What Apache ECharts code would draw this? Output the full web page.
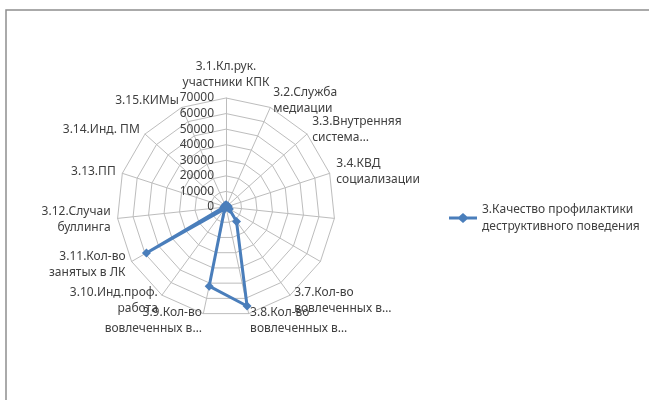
<!DOCTYPE html>
<html>
<head>
<meta charset="utf-8">
<script src="https://cdn.jsdelivr.net/npm/echarts@6/dist/echarts.min.js"></script>
<style>
  html, body { margin: 0; padding: 0; background: #ffffff; }
  #chart { width: 649px; height: 400px; }
</style>
</head>
<body>
<div id="chart"></div>
<script>
// Indicator names (3.5 and 3.6 carry no visible caption)
const indicatorNames = [
  '3.1.Кл.рук.\nучастники КПК',
  '3.2.Служба\nмедиации',
  '3.3.Внутренняя\nсистема…',
  '3.4.КВД\nсоциализации',
  '',
  '',
  '3.7.Кол-во\nвовлеченных в…',
  '3.8.Кол-во\nвовлеченных в…',
  '3.9.Кол-во\nвовлеченных в…',
  '3.10.Инд.проф.\nработа',
  '3.11.Кол-во\nзанятых в ЛК',
  '3.12.Случаи\nбуллинга',
  '3.13.ПП',
  '3.14.Инд. ПМ',
  '3.15.КИМы'
];

const seriesName = '3.Качество профилактики\nдеструктивного поведения';

// Values per indicator, in the same order as indicatorNames
const seriesValues = [1500, 1200, 800, 1500, 1000, 2500, 11500, 65000, 52000, 1500, 59000, 1500, 1000, 800, 1200];

// Scale of the radial axis
const scaleMin = 0;
const scaleMax = 70000;
const scaleStep = 10000;

const textColor = '#404040';
const gridColor = '#bdbdbd';
const lineColor = '#4a7ebb';
const font = 'Noto Sans';

const cx = 226, cy = 207, r = 109;

// ECharts lays radar axes out counter-clockwise; keep the first axis on top
// and walk the rest backwards so the categories run clockwise.
const order = [0].concat(indicatorNames.map((_, i) => i).slice(1).reverse());
const radarIndicators = order.map(i => ({ name: indicatorNames[i], min: scaleMin, max: scaleMax }));
const radarValues = order.map(i => seriesValues[i]);

// Legend glyph: a thick line crossed by a diamond marker
const legendIcon = 'path://M0,3.6 L10,3.6 L14,0 L18,3.6 L28,3.6 L28,6.4 L18,6.4 L14,10 L10,6.4 L0,6.4 Z';

const chart = echarts.init(document.getElementById('chart'), null, { renderer: 'canvas' });

chart.setOption({
  backgroundColor: '#ffffff',
  animation: false,
  textStyle: { fontFamily: font },
  graphic: [{
    type: 'rect',
    shape: { x: 6, y: 10, width: 700, height: 500 },
    style: { fill: 'none', stroke: '#8e8e8e', lineWidth: 1.5 },
    silent: true
  }],
  legend: {
    data: [{ name: seriesName, icon: legendIcon }],
    orient: 'vertical',
    left: 444,
    top: 196,
    itemWidth: 28,
    itemHeight: 10,
    textStyle: { color: textColor, fontSize: 12, fontFamily: font, lineHeight: 17 }
  },
  // Vertical value axis printed along the first spoke
  grid: { left: cx, top: cy - r, height: r, width: 1, containLabel: false },
  xAxis: { type: 'value', show: false },
  yAxis: {
    type: 'value',
    min: scaleMin,
    max: scaleMax,
    interval: scaleStep,
    axisLine: { show: false },
    axisTick: { show: false },
    splitLine: { show: false },
    axisLabel: {
      color: textColor, fontSize: 12, fontFamily: font, margin: 12,
      formatter: v => String(v)
    }
  },
  radar: {
    center: [cx, cy],
    radius: r,
    startAngle: 90,
    splitNumber: (scaleMax - scaleMin) / scaleStep,
    shape: 'polygon',
    indicator: radarIndicators,
    nameGap: 7,
    axisName: { color: textColor, fontSize: 12, fontFamily: font, lineHeight: 16 },
    axisLine: { lineStyle: { color: gridColor, width: 1 } },
    splitLine: { lineStyle: { color: gridColor, width: 1 } },
    splitArea: { show: false }
  },
  series: [{
    name: seriesName,
    type: 'radar',
    symbol: 'diamond',
    symbolSize: 9,
    lineStyle: { color: lineColor, width: 3 },
    itemStyle: { color: lineColor },
    data: [{ name: seriesName, value: radarValues }]
  }]
});
</script>
</body>
</html>
